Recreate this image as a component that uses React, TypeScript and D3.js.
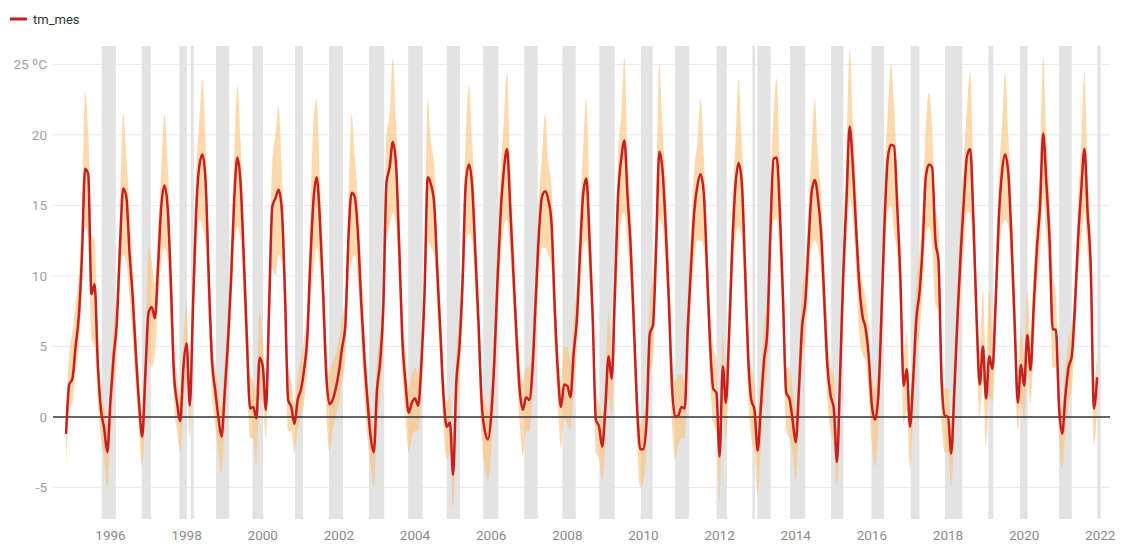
import React from "react";
import * as d3 from "d3";

// Monthly series starting November 1994
const startYear = 1994;
const startMonth = 10; // 0-based: November

const tmMes = [
  -1.2, 2.3,
  2.7, 5.0, 7.1, 11.4, 17.6, 17.2, 8.7, 9.4, 3.8, 0.5, -0.8, -2.5,
  1.2, 4.3, 6.7, 12.1, 16.2, 15.6, 11.6, 8.5, 4.5, 1.0, -1.4, 3.1,
  7.4, 7.8, 7.0, 10.7, 14.9, 16.4, 14.9, 9.7, 3.1, 1.0, -0.3, 3.6,
  5.2, 0.8, 7.8, 14.5, 17.8, 18.6, 16.6, 9.7, 4.0, 1.9, 0.0, -1.4,
  1.7, 5.2, 9.7, 15.4, 18.4, 16.6, 11.4, 5.5, 0.6, 0.7, -0.1, 4.2,
  3.6, 0.5, 7.8, 14.9, 15.5, 16.1, 14.7, 8.8, 1.2, 0.7, -0.5, 1.2,
  1.9, 3.3, 5.5, 11.0, 15.4, 17.0, 14.0, 9.0, 3.1, 0.9, 1.2, 2.0,
  3.2, 4.9, 6.4, 12.6, 15.9, 15.6, 13.0, 8.3, 4.3, 1.2, -1.4, -2.5,
  1.9, 3.9, 7.8, 16.6, 17.7, 19.5, 17.9, 12.1, 5.5, 2.4, 0.3, 1.0,
  1.3, 0.8, 3.8, 8.8, 17.0, 16.5, 15.2, 10.4, 5.9, 1.4, -0.7, -0.4,
  -4.1, 2.4, 5.0, 9.7, 16.6, 17.9, 16.4, 11.6, 6.7, 1.0, -1.0, -1.6,
  0.1, 4.0, 9.7, 14.5, 17.5, 19.0, 14.9, 10.2, 5.7, 1.9, 0.5, 1.4,
  1.2, 3.3, 8.1, 12.8, 15.6, 16.0, 15.4, 13.8, 7.9, 3.3, 0.7, 2.3,
  2.2, 1.4, 4.5, 6.9, 11.6, 15.8, 16.9, 12.6, 7.1, -0.2, -0.7, -2.1,
  0.7, 4.3, 2.7, 8.8, 15.6, 18.3, 19.6, 15.6, 11.9, 6.4, 0.7, -2.3,
  -2.3, -0.2, 5.9, 6.5, 12.1, 18.8, 17.5, 13.5, 8.3, 2.2, 0.0, 0.1,
  0.7, 0.6, 6.4, 10.7, 14.5, 16.4, 17.2, 15.9, 10.7, 5.2, 2.0, 1.7,
  -2.8, 3.6, 1.0, 5.9, 12.1, 16.4, 18.0, 16.6, 10.7, 4.3, 1.2, 0.5,
  -2.4, 0.7, 4.0, 5.9, 13.0, 18.3, 18.4, 14.5, 8.3, 1.7, 1.3, -0.2,
  -1.8, 1.9, 6.4, 8.1, 12.1, 15.9, 16.8, 15.5, 13.0, 8.3, 3.6, 1.5,
  0.6, -3.2, 3.1, 10.2, 15.4, 20.6, 17.8, 13.5, 9.5, 7.2, 6.3, 4.3,
  0.8, -0.2, 1.4, 7.1, 13.8, 18.3, 19.3, 19.2, 14.9, 9.7, 2.2, 3.4,
  -0.7, 2.6, 6.9, 8.8, 12.1, 17.0, 17.9, 17.7, 12.6, 11.0, 2.5, 0.1,
  0.0, -2.6, 1.9, 7.1, 11.6, 15.4, 18.5, 19.0, 14.0, 7.1, 2.3, 5.0,
  1.3, 4.3, 3.4, 8.0, 14.0, 17.3, 18.6, 17.3, 12.6, 6.7, 1.0, 3.7,
  2.2, 5.8, 3.3, 7.8, 11.9, 14.9, 20.1, 16.6, 12.6, 6.2, 6.2, 0.7,
  -1.2, 1.5, 3.5, 4.3, 7.8, 12.6, 16.1, 19.0, 14.5, 10.6, 0.6, 2.8,
];

const tmMax = [
  0.5, 4.5,
  6.0, 8.0, 10.0, 14.5, 23.0, 20.0, 13.0, 12.5, 6.0, 2.0, 0.8, -0.5,
  3.0, 6.5, 9.0, 15.0, 21.5, 18.5, 14.5, 11.0, 6.5, 2.5, 0.5, 5.0,
  12.0, 11.0, 9.5, 13.5, 17.5, 21.5, 18.0, 12.0, 5.5, 3.0, 1.5, 5.5,
  8.0, 3.0, 10.5, 17.5, 21.0, 24.0, 19.5, 12.5, 6.0, 3.5, 2.0, 0.5,
  4.0, 7.5, 12.5, 18.5, 23.5, 19.5, 14.0, 8.0, 3.0, 2.5, 1.5, 7.5,
  5.5, 2.5, 10.5, 18.0, 20.0, 22.0, 17.5, 11.5, 3.5, 2.5, 1.0, 3.0,
  4.0, 5.5, 8.0, 14.5, 21.0, 22.5, 17.0, 11.5, 5.5, 3.0, 4.0, 4.5,
  5.5, 7.0, 8.5, 15.5, 21.5, 18.5, 15.5, 11.0, 6.5, 3.0, 0.5, -0.5,
  4.0, 6.0, 10.5, 20.0, 21.5, 25.5, 21.0, 15.0, 8.0, 4.5, 2.0, 3.0,
  3.5, 3.0, 6.0, 11.5, 22.5, 19.5, 18.0, 13.0, 8.0, 3.5, 1.0, 1.5,
  -1.5, 4.5, 7.5, 12.5, 20.0, 23.5, 19.5, 14.5, 9.0, 3.0, 1.0, 0.5,
  2.5, 6.5, 12.5, 17.5, 21.0, 24.5, 18.0, 13.0, 8.0, 4.0, 2.5, 3.5,
  3.5, 5.5, 10.5, 15.5, 18.5, 21.5, 18.0, 16.5, 10.5, 5.5, 2.5, 5.0,
  5.0, 4.0, 7.0, 9.5, 14.5, 19.0, 22.5, 15.5, 9.5, 2.0, 1.0, 0.0,
  3.0, 7.5, 5.0, 11.5, 18.5, 21.5, 25.5, 18.5, 14.5, 9.0, 2.5, -0.5,
  0.0, 2.0, 8.5, 10.0, 15.0, 25.0, 20.5, 16.5, 11.0, 4.5, 2.5, 3.0,
  3.0, 2.5, 9.0, 13.5, 17.5, 19.5, 22.5, 18.5, 13.5, 7.5, 5.0, 4.0,
  -0.5, 6.0, 3.5, 8.5, 15.0, 19.5, 24.0, 19.5, 13.5, 6.5, 3.5, 2.5,
  0.0, 3.0, 6.5, 8.5, 16.0, 21.5, 24.0, 17.5, 11.0, 3.5, 3.5, 2.0,
  0.5, 4.5, 9.0, 10.5, 15.0, 19.0, 22.5, 18.5, 15.5, 11.0, 6.0, 3.5,
  3.0, -1.0, 5.5, 13.0, 18.5, 26.0, 21.0, 16.5, 11.5, 9.5, 8.5, 6.5,
  2.8, 2.0, 4.0, 10.0, 17.0, 21.5, 25.0, 22.0, 17.5, 12.0, 4.5, 6.0,
  1.5, 5.0, 9.5, 11.5, 15.0, 20.5, 23.0, 20.5, 15.0, 13.5, 4.5, 2.0,
  2.0, -0.5, 4.5, 10.0, 14.5, 18.5, 22.0, 24.5, 17.0, 9.5, 4.5, 9.0,
  3.5, 9.0, 6.0, 10.5, 17.0, 20.5, 24.5, 20.0, 15.5, 9.0, 3.5, 6.0,
  4.5, 9.0, 6.0, 10.5, 14.5, 18.0, 25.5, 20.0, 15.5, 10.5, 8.5, 3.0,
  0.5, 3.5, 5.5, 6.5, 10.0, 15.5, 19.5, 24.5, 17.5, 13.0, 2.5, 4.5,
];

const tmMin = [
  -3.7, 0.5,
  1.0, 3.0, 5.0, 9.0, 13.5, 12.5, 5.5, 5.0, 1.0, -1.5, -3.0, -5.0,
  -1.5, 2.0, 4.5, 9.5, 11.5, 11.0, 8.5, 5.5, 2.0, -1.0, -3.5, 0.5,
  4.0, 3.5, 4.5, 8.0, 11.0, 12.0, 11.0, 6.5, 1.0, -1.0, -2.5, 1.0,
  2.5, -1.5, 5.0, 11.0, 14.0, 13.5, 12.0, 6.5, 1.5, -0.5, -2.5, -4.0,
  -0.5, 3.0, 7.0, 12.0, 13.5, 12.5, 8.0, 3.0, -1.5, -1.5, -3.5, 1.5,
  1.0, -1.5, 5.0, 10.5, 10.0, 11.5, 11.0, 6.0, -1.0, -1.0, -2.5, -1.0,
  0.0, 1.0, 3.5, 8.0, 10.5, 12.0, 10.5, 6.0, 0.5, -2.5, -1.0, 0.0,
  1.0, 2.5, 4.0, 9.5, 11.0, 11.5, 9.5, 5.5, 1.5, -1.5, -3.5, -5.0,
  -1.0, 1.5, 5.0, 12.5, 13.5, 14.5, 13.5, 9.0, 3.0, 0.0, -2.5, -1.5,
  -1.0, -1.0, 1.5, 6.0, 12.5, 12.0, 11.5, 7.5, 3.5, -1.0, -3.0, -2.5,
  -6.5, -0.5, 2.5, 7.0, 12.5, 13.0, 12.5, 8.5, 4.0, -1.5, -3.5, -4.5,
  -2.5, 1.5, 7.0, 11.0, 13.5, 14.0, 11.5, 7.5, 3.0, -0.5, -2.8, -1.0,
  -1.0, 1.0, 5.5, 10.0, 12.0, 12.0, 11.5, 10.5, 5.0, 1.0, -2.2, 0.0,
  -0.5, -1.0, 2.0, 4.5, 8.5, 12.0, 12.5, 9.5, 4.5, -2.5, -3.0, -4.5,
  -2.0, 1.5, 0.0, 6.0, 11.0, 14.0, 14.5, 12.0, 9.0, 3.5, -2.0, -5.0,
  -4.5, -2.5, 3.0, 4.0, 9.5, 14.0, 13.5, 10.5, 5.5, -0.5, -3.0, -2.0,
  -1.5, -1.5, 4.0, 8.0, 11.0, 12.5, 12.5, 12.0, 8.0, 2.5, -0.5, -1.0,
  -6.0, 0.5, -1.5, 3.0, 9.0, 12.5, 13.5, 12.5, 7.5, 1.5, -1.5, -2.5,
  -5.5, -2.0, 1.5, 3.5, 10.0, 14.0, 14.0, 11.0, 5.5, -1.0, -1.5, -2.5,
  -4.5, -0.5, 4.0, 5.5, 9.5, 12.0, 12.5, 12.0, 10.0, 5.5, 1.0, -1.0,
  -2.0, -5.0, 0.5, 7.5, 12.0, 15.5, 14.0, 10.5, 6.0, 4.5, 4.0, 1.5,
  -2.0, -3.5, -1.0, 4.5, 10.5, 14.5, 15.0, 13.0, 11.5, 7.0, -0.5, 0.5,
  -3.6, 0.0, 4.0, 6.0, 9.0, 13.0, 13.5, 12.0, 8.0, 7.5, -0.5, -2.5,
  -2.5, -5.0, -1.0, 4.5, 9.0, 12.0, 14.5, 14.5, 11.0, 4.5, 0.0, 2.5,
  -2.0, 1.5, 1.0, 5.5, 11.0, 13.5, 14.0, 13.5, 9.5, 4.0, -1.0, 1.0,
  0.0, 3.0, 1.0, 5.0, 9.0, 11.5, 15.5, 13.0, 9.5, 3.5, 3.5, -1.5,
  -3.7, -1.0, 1.0, 2.0, 5.5, 10.0, 12.5, 14.5, 11.5, 8.0, -2.0, 0.5,
];

// Highlighted periods (decimal years, start-end)
const greyPeriods: [number, number][] = [
  [1995.77, 1996.14], [1996.82, 1997.06], [1997.81, 1998.01], [1998.11, 1998.19],
  [1998.77, 1999.12], [1999.73, 2000.01], [2000.85, 2001.06], [2001.74, 2002.11],
  [2002.79, 2003.19], [2003.82, 2004.2], [2004.83, 2005.18], [2005.79, 2006.19],
  [2006.87, 2007.22], [2007.87, 2008.22], [2008.84, 2009.24], [2009.93, 2010.24],
  [2010.83, 2011.2], [2011.92, 2012.19], [2012.86, 2012.93], [2012.99, 2013.34],
  [2013.85, 2014.25], [2014.93, 2015.25], [2015.99, 2016.32], [2017.02, 2017.25],
  [2017.92, 2018.375], [2019.06, 2019.19], [2019.89, 2020.09], [2020.915, 2021.25],
  [2021.92, 2022.01],
];

const yTicks = [-5, 0, 5, 10, 15, 20, 25];
const xTicks = [1996, 1998, 2000, 2002, 2004, 2006, 2008, 2010, 2012, 2014, 2016, 2018, 2020, 2022];
const seriesName = "tm_mes";
const unit = " ºC";

type Pt = { t: number; v: number; hi: number; lo: number };

export default function App() {
  const W = 1121;
  const H = 545;
  const left = 53, right = 1110, top = 46, bottom = 519;

  const x = d3.scaleLinear().domain([1994.49, 2022.255]).range([left, right]);
  const y = d3.scaleLinear().domain([-7.24, 26.3]).range([bottom, top]);

  const data: Pt[] = tmMes.map((v, i) => ({
    t: startYear + (startMonth + i) / 12,
    v,
    hi: tmMax[i],
    lo: tmMin[i],
  }));

  const line = d3.line<Pt>().x(d => x(d.t)).y(d => y(d.v)).curve(d3.curveMonotoneX);
  const area = d3.area<Pt>().x(d => x(d.t)).y0(d => y(d.lo)).y1(d => y(d.hi)).curve(d3.curveMonotoneX);

  const font = "Roboto, 'Noto Sans', sans-serif";

  return (
    <svg width={W} height={H} style={{ position: "absolute", left: 0, top: 0, background: "#fff" }} fontFamily={font}>
      {/* legend */}
      <line x1={10} x2={27} y1={19} y2={19} stroke="#c91f1f" strokeWidth={3} />
      <text x={33} y={23.5} fontSize={13} fill="#333">{seriesName}</text>

      {/* grid */}
      {yTicks.filter(t => t !== 0).map(t => (
        <line key={t} x1={left} x2={right} y1={y(t)} y2={y(t)} stroke="#e9e9e9" strokeWidth={1} />
      ))}

      {/* grey periods */}
      {greyPeriods.map(([a, b], i) => (
        <rect key={i} x={x(a)} y={top} width={Math.max(1.5, x(b) - x(a))} height={bottom - top} fill="#e3e3e3" />
      ))}

      {/* band */}
      <path d={area(data) || ""} fill="#fbbf78" fillOpacity={0.6} />

      {/* zero line */}
      <line x1={left} x2={right} y1={y(0)} y2={y(0)} stroke="#333" strokeWidth={1.5} />

      {/* line */}
      <path d={line(data) || ""} fill="none" stroke="#c91f1f" strokeWidth={2.5} strokeLinejoin="round" />

      {/* y labels */}
      {yTicks.map(t => (
        <text key={t} x={47} y={y(t) + 5} fontSize={13.5} fill="#a0a0a0" textAnchor="end">
          {t === 25 ? `${t}${unit}` : `${t}`}
        </text>
      ))}

      {/* x labels */}
      {xTicks.map(t => (
        <text key={t} x={x(t)} y={540} fontSize={13.5} fill="#8a8a8a" textAnchor="middle">{t}</text>
      ))}
    </svg>
  );
}
